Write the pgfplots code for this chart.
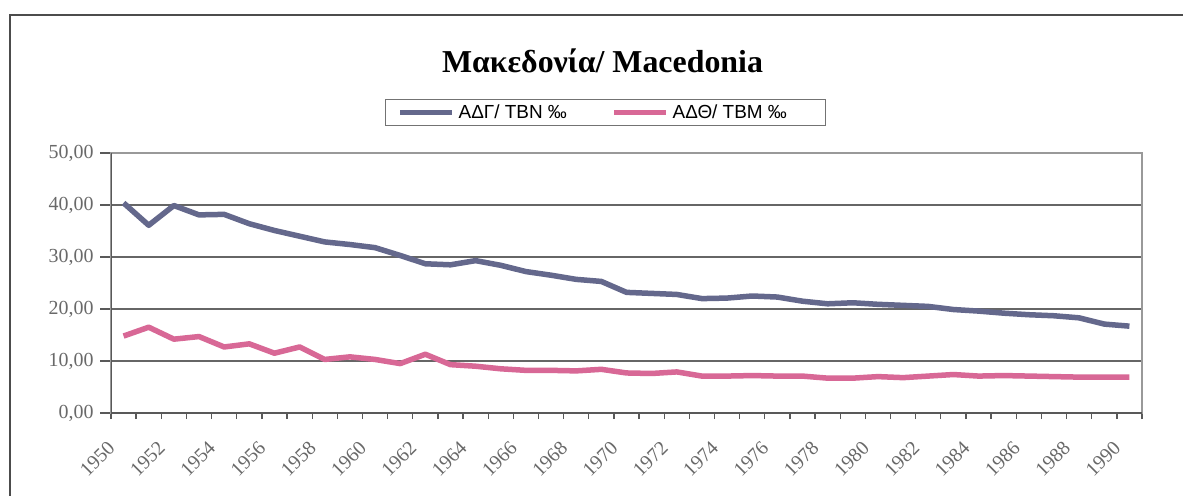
\documentclass[border=0pt]{standalone}
\usepackage{fontspec}
\setmainfont{Liberation Serif}
\newfontfamily\arialfont{Liberation Sans}
\usepackage{pgfplots}
\usepackage{pgfplotstable}
\pgfplotsset{compat=1.18}
\definecolor{tbn}{RGB}{100,104,140}
\definecolor{tbm}{RGB}{216,104,150}
\definecolor{tickgray}{RGB}{105,105,105}

\pgfplotstableread{
year tbn tbm
1950 40.4 14.8
1951 36.1 16.5
1952 39.9 14.2
1953 38.1 14.7
1954 38.2 12.7
1955 36.4 13.3
1956 35.1 11.5
1957 34.0 12.7
1958 32.9 10.3
1959 32.4 10.8
1960 31.8 10.3
1961 30.3 9.5
1962 28.7 11.3
1963 28.5 9.3
1964 29.3 9.0
1965 28.4 8.5
1966 27.2 8.2
1967 26.5 8.2
1968 25.7 8.1
1969 25.3 8.4
1970 23.2 7.7
1971 23.0 7.6
1972 22.8 7.9
1973 22.0 7.1
1974 22.1 7.1
1975 22.5 7.2
1976 22.3 7.1
1977 21.5 7.1
1978 21.0 6.7
1979 21.2 6.7
1980 20.9 7.0
1981 20.7 6.8
1982 20.5 7.1
1983 19.9 7.4
1984 19.6 7.1
1985 19.2 7.2
1986 18.9 7.1
1987 18.7 7.0
1988 18.3 6.9
1989 17.1 6.9
1990 16.7 6.9
}\datatable

\begin{document}
\begin{tikzpicture}[x=1bp,y=1bp]
\useasboundingbox (0,0) rectangle (1183,-496);
\fill[white] (0,0) rectangle (1183,-496);
\draw[black!70, line width=2bp] (10,-496) -- (10,-15) -- (1183,-15);
\node[font=\fontsize{32}{37}\selectfont\bfseries, anchor=base] at (602.5,-73) {Μακεδονία/ Macedonia};
\begin{axis}[
  at={(111bp,-413bp)}, anchor=south west,
  scale only axis, width=1031bp, height=260bp,
  xmin=1949.5, xmax=1990.5, ymin=0, ymax=50,
  ytick={0,10,20,30,40,50},
  xtick={1950,1952,1954,1956,1958,1960,1962,1964,1966,1968,1970,1972,1974,1976,1978,1980,1982,1984,1986,1988,1990},
  xticklabels={1950,1952,1954,1956,1958,1960,1962,1964,1966,1968,1970,1972,1974,1976,1978,1980,1982,1984,1986,1988,1990},
  minor xtick={1949.5,1950.5,1951.5,1952.5,1953.5,1954.5,1955.5,1956.5,1957.5,1958.5,1959.5,1960.5,1961.5,1962.5,1963.5,1964.5,1965.5,1966.5,1967.5,1968.5,1969.5,1970.5,1971.5,1972.5,1973.5,1974.5,1975.5,1976.5,1977.5,1978.5,1979.5,1980.5,1981.5,1982.5,1983.5,1984.5,1985.5,1986.5,1987.5,1988.5,1989.5,1990.5},
  major x tick style={draw=none},
  minor x tick style={draw=black!65, line width=1.3bp},
  ytick style={draw=black!65, line width=1.3bp},
  tick align=outside, tick pos=left,
  major tick length=11bp, minor tick length=6bp,
  ymajorgrids, major grid style={draw=black!60, line width=1.3bp},
  axis line style={draw=black!40, line width=1.5bp},
  /pgf/number format/assume math mode=true,
  tick label style={font=\fontsize{20}{24}\selectfont, text=tickgray},
  yticklabel style={/pgf/number format/.cd, fixed, fixed zerofill, precision=2, use comma, /tikz/.cd, xshift=-3bp},
  xticklabel style={xshift=-17bp, yshift=-16bp, rotate=45, anchor=north east, inner sep=0pt},
  legend style={at={(0.2658,1.2077)}, anchor=north west, draw=black!55, line width=1.2bp,
    font=\arialfont\fontsize{19}{22}\selectfont, inner xsep=12bp, inner ysep=5.5bp,
    nodes={inner sep=0bp, anchor=west},
    /tikz/every odd column/.append style={column sep=4bp},
    /tikz/every even column/.append style={column sep=39bp}},
  legend columns=2,
  legend image code/.code={\draw[#1, line width=5bp] (11bp,0bp) -- (63bp,0bp);},
]
\addplot[tbn, line width=5.5bp, line join=round, no markers] table[x=year, y=tbn] {\datatable};
\addlegendentry{\makebox[114bp][l]{ΑΔΓ/ TBN ‰}}
\addplot[tbm, line width=5.5bp, line join=round, no markers] table[x=year, y=tbm] {\datatable};
\addlegendentry{\makebox[141bp][l]{ΑΔΘ/ TBM ‰}}
\draw[black!65, line width=1.8bp] (rel axis cs:0,1) -- (rel axis cs:0,0) -- (rel axis cs:1,0);
\end{axis}
\end{tikzpicture}
\end{document}
